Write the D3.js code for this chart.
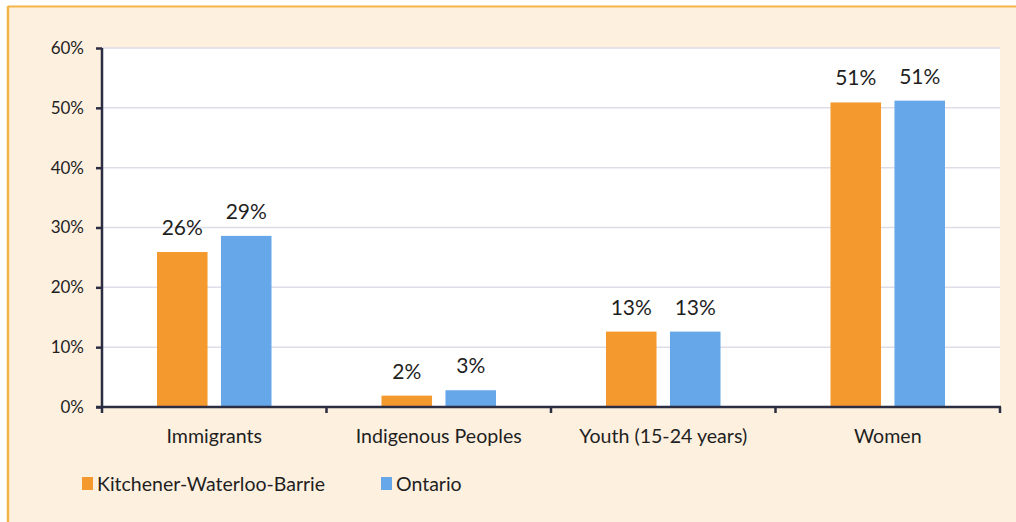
<!DOCTYPE html>
<html>
<head>
<meta charset="utf-8">
<script src="https://cdn.jsdelivr.net/npm/d3@7/dist/d3.min.js"></script>
<style>
  html, body { margin: 0; padding: 0; background: #ffffff; }
  svg { display: block; }
</style>
</head>
<body>
<div id="chart"></div>
<script>
var categories = ["Immigrants", "Indigenous Peoples", "Youth (15-24 years)", "Women"];
var seriesNames = ["Kitchener-Waterloo-Barrie", "Ontario"];
var kwbValues = [25.9, 1.9, 12.6, 50.9];
var ontarioValues = [28.6, 2.8, 12.6, 51.2];
var valueLabels = [["26%", "2%", "13%", "51%"], ["29%", "3%", "13%", "51%"]];
var yTicks = [0, 10, 20, 30, 40, 50, 60];
var seriesColors = ["#f4992d", "#65a7e8"];

(function () {
  var width = 1016;
  var height = 522;
  var plot = {left: 102, right: 1000, top: 48, bottom: 407};
  var fontFamily = "Lato, 'Noto Sans', sans-serif";
  var axisColor = "#2b2d42";
  var textColor = "#1f1f1f";

  var svg = d3.select("#chart").append("svg")
    .attr("width", width)
    .attr("height", height);

  // card background + border (top and left edges visible)
  svg.append("rect")
    .attr("x", 0).attr("y", 0)
    .attr("width", width).attr("height", height)
    .attr("fill", "#ffffff");
  svg.append("rect")
    .attr("x", 8).attr("y", 6)
    .attr("width", width - 8).attr("height", height - 6)
    .attr("fill", "#fdf0df");
  svg.append("line")
    .attr("x1", 8).attr("x2", width)
    .attr("y1", 6.5).attr("y2", 6.5)
    .attr("stroke", "#f3b548").attr("stroke-width", 2);
  svg.append("line")
    .attr("x1", 8).attr("x2", 8)
    .attr("y1", 6).attr("y2", height)
    .attr("stroke", "#f3b548").attr("stroke-width", 2.5);

  svg.append("rect")
    .attr("x", plot.left).attr("y", plot.top)
    .attr("width", plot.right - plot.left)
    .attr("height", plot.bottom - plot.top)
    .attr("fill", "#ffffff");

  var x0 = d3.scaleBand()
    .domain(categories)
    .range([plot.left, plot.right])
    .paddingInner(0)
    .paddingOuter(0);

  var groupInset = 55;
  var x1 = d3.scaleBand()
    .domain(seriesNames)
    .range([groupInset, x0.bandwidth() - groupInset])
    .paddingInner(0.21);

  var y = d3.scaleLinear()
    .domain([0, 60])
    .range([plot.bottom, plot.top]);

  // gridlines
  svg.append("g")
    .selectAll("line")
    .data(yTicks.filter(function (t) { return t > 0; }))
    .join("line")
    .attr("x1", plot.left)
    .attr("x2", plot.right)
    .attr("y1", function (t) { return y(t); })
    .attr("y2", function (t) { return y(t); })
    .attr("stroke", "#dddde9")
    .attr("stroke-width", 1.5);

  var rows = categories.map(function (c, i) {
    return {category: c, values: [kwbValues[i], ontarioValues[i]], index: i};
  });

  var groups = svg.append("g")
    .selectAll("g")
    .data(rows)
    .join("g")
    .attr("transform", function (d) { return "translate(" + x0(d.category) + ",0)"; });

  groups.selectAll("rect")
    .data(function (d) {
      return d.values.map(function (v, s) { return {series: seriesNames[s], value: v, s: s, index: d.index}; });
    })
    .join("rect")
    .attr("x", function (d) { return x1(d.series); })
    .attr("width", x1.bandwidth())
    .attr("y", function (d) { return y(d.value); })
    .attr("height", function (d) { return y(0) - y(d.value); })
    .attr("fill", function (d) { return seriesColors[d.s]; });

  groups.selectAll("text")
    .data(function (d) {
      return d.values.map(function (v, s) { return {series: seriesNames[s], value: v, s: s, index: d.index}; });
    })
    .join("text")
    .attr("x", function (d) { return x1(d.series) + x1.bandwidth() / 2; })
    .attr("y", function (d) { return y(d.value) - 17; })
    .attr("text-anchor", "middle")
    .attr("font-family", fontFamily)
    .attr("font-size", 21)
    .attr("fill", textColor)
    .text(function (d) { return valueLabels[d.s][d.index]; });

  // y axis
  var yAxis = d3.axisLeft(y)
    .tickValues(yTicks)
    .tickSize(6)
    .tickPadding(12)
    .tickFormat(function (t) { return t + "%"; });

  var yg = svg.append("g")
    .attr("transform", "translate(" + plot.left + ",0)")
    .call(yAxis);
  yg.select(".domain").attr("stroke", axisColor).attr("stroke-width", 2.5)
    .attr("d", "M0," + plot.top + "V" + plot.bottom);
  yg.selectAll(".tick line").attr("stroke", axisColor).attr("stroke-width", 2.5);
  yg.selectAll(".tick text")
    .attr("font-family", fontFamily)
    .attr("font-size", 17)
    .attr("fill", textColor);

  // x axis: line with ticks at category boundaries
  var xg = svg.append("g");
  xg.append("line")
    .attr("x1", plot.left - 6).attr("x2", plot.right + 1)
    .attr("y1", plot.bottom).attr("y2", plot.bottom)
    .attr("stroke", axisColor).attr("stroke-width", 2.5);
  var boundaries = categories.map(function (c) { return x0(c); }).concat([plot.right]);
  xg.selectAll(".bt")
    .data(boundaries)
    .join("line")
    .attr("class", "bt")
    .attr("x1", function (d) { return d; })
    .attr("x2", function (d) { return d; })
    .attr("y1", plot.bottom)
    .attr("y2", plot.bottom + 6)
    .attr("stroke", axisColor).attr("stroke-width", 2.5);
  xg.selectAll("text")
    .data(categories)
    .join("text")
    .attr("x", function (c) { return x0(c) + x0.bandwidth() / 2; })
    .attr("y", 443)
    .attr("text-anchor", "middle")
    .attr("font-family", fontFamily)
    .attr("font-size", 19.6)
    .attr("fill", textColor)
    .text(function (c) { return c; });

  // legend
  var legendX = [82, 381];
  var legend = svg.append("g")
    .selectAll("g")
    .data(seriesNames)
    .join("g")
    .attr("transform", function (d, i) { return "translate(" + legendX[i] + ",477)"; });
  legend.append("rect")
    .attr("width", 11).attr("height", 13)
    .attr("fill", function (d, i) { return seriesColors[i]; });
  legend.append("text")
    .attr("x", 15)
    .attr("y", 14)
    .attr("font-family", fontFamily)
    .attr("font-size", 19.5)
    .attr("fill", textColor)
    .text(function (d) { return d; });
}());
</script>
</body>
</html>
